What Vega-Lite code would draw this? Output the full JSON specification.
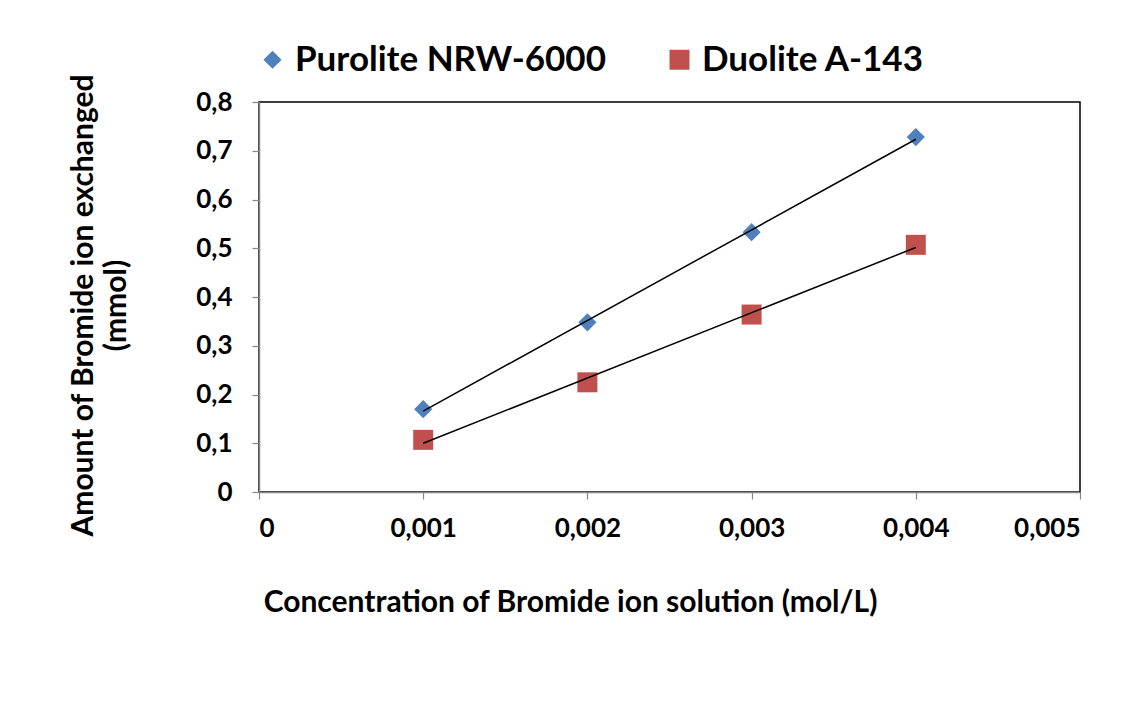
{
  "$schema": "https://vega.github.io/schema/vega-lite/v6.json",
  "autosize": "none",
  "width": 821,
  "height": 390,
  "padding": {"left": 259, "top": 102, "right": 65, "bottom": 230},
  "background": "white",
  "config": {
    "font": "Lato",
    "view": {"stroke": "black", "strokeWidth": 1.5},
    "axis": {"grid": false, "domainColor": "#868686", "tickColor": "#868686", "domainWidth": 1.5, "tickWidth": 1.2, "tickSize": 7,
      "labelFont": "Lato", "labelFontWeight": "bold", "labelFontSize": 26, "labelColor": "black",
      "titleFont": "Lato", "titleFontWeight": "bold", "titleFontSize": 30, "titleColor": "black"}
  },
  "data": {
    "values": [
      {"c": 0.001, "amount": 0.170, "resin": "Purolite NRW-6000"},
      {"c": 0.002, "amount": 0.348, "resin": "Purolite NRW-6000"},
      {"c": 0.003, "amount": 0.533, "resin": "Purolite NRW-6000"},
      {"c": 0.004, "amount": 0.728, "resin": "Purolite NRW-6000"},
      {"c": 0.001, "amount": 0.107, "resin": "Duolite A-143"},
      {"c": 0.002, "amount": 0.225, "resin": "Duolite A-143"},
      {"c": 0.003, "amount": 0.364, "resin": "Duolite A-143"},
      {"c": 0.004, "amount": 0.507, "resin": "Duolite A-143"}
    ]
  },
  "layer": [
    {
      "mark": {"type": "point", "filled": true, "opacity": 1},
      "encoding": {
        "x": {"field": "c", "type": "quantitative", "scale": {"domain": [0, 0.005], "nice": false},
          "axis": {"values": [0, 0.001, 0.002, 0.003, 0.004, 0.005], "labelExpr": "datum.value == 0 ? '0' : replace(format(datum.value, '.3f'), '.', ',')", "labelPadding": 16, "title": "Concentration of Bromide ion solution (mol/L)", "titlePadding": 46, "titleX": 311, "titleAnchor": "middle"}},
        "y": {"field": "amount", "type": "quantitative", "scale": {"domain": [0, 0.8], "nice": false},
          "axis": {"values": [0, 0.1, 0.2, 0.3, 0.4, 0.5, 0.6, 0.7, 0.8], "labelExpr": "datum.value == 0 ? '0' : replace(format(datum.value, '.1f'), '.', ',')", "labelPadding": 20, "title": ["Amount of Bromide ion exchanged", "(mmol)"], "titlePadding": 64, "titleLineHeight": 33, "titleY": 203}},
        "color": {"field": "resin", "type": "nominal", "scale": {"domain": ["Purolite NRW-6000", "Duolite A-143"], "range": ["#4F81BD", "#C0504D"]},
          "legend": {"orient": "none", "legendX": -4, "legendY": -60, "direction": "horizontal", "title": null, "labelFontSize": 35, "labelFontWeight": "bold", "labelColor": "black", "labelFont": "Lato", "labelLimit": 0, "symbolSize": 290, "columnPadding": 56, "labelOffset": 5, "symbolOpacity": 1}},
        "shape": {"field": "resin", "type": "nominal", "scale": {"domain": ["Purolite NRW-6000", "Duolite A-143"], "range": ["diamond", "square"]}},
        "size": {"field": "resin", "type": "nominal", "scale": {"domain": ["Purolite NRW-6000", "Duolite A-143"], "range": [330, 400]}, "legend": null}
      }
    },
    {
      "transform": [{"regression": "amount", "on": "c", "groupby": ["resin"]}],
      "mark": {"type": "line", "color": "black", "strokeWidth": 1.5},
      "encoding": {
        "x": {"field": "c", "type": "quantitative"},
        "y": {"field": "amount", "type": "quantitative"},
        "detail": {"field": "resin", "type": "nominal"}
      }
    }
  ]
}
